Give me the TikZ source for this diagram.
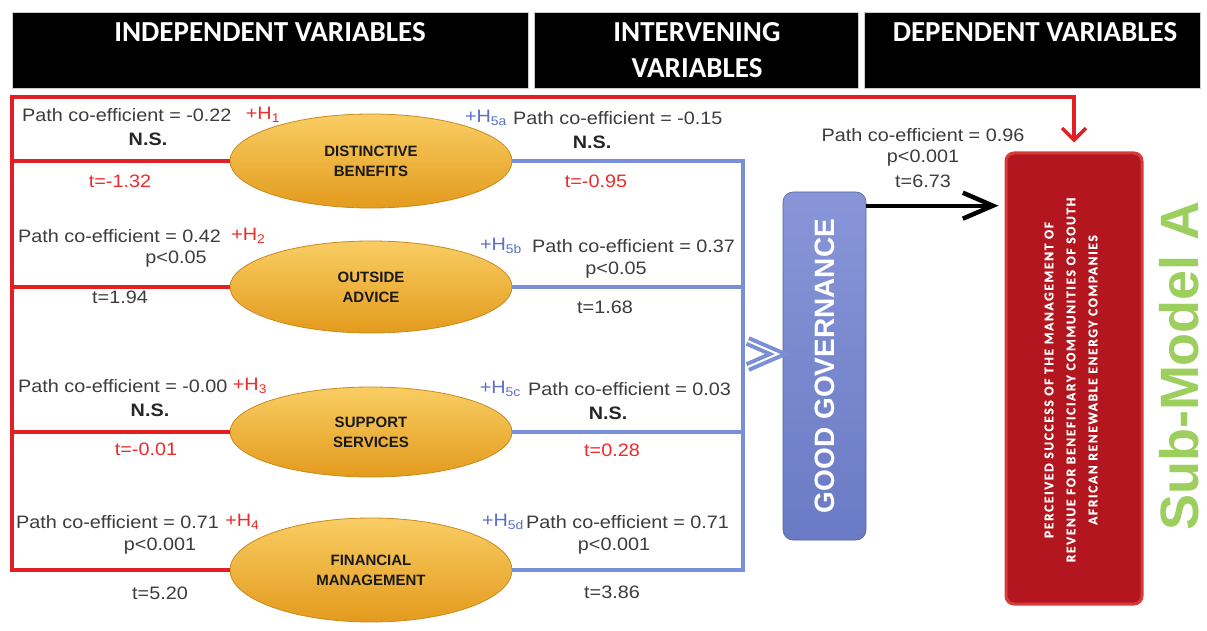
\documentclass[tikz,border=0pt]{standalone}
\usepackage{fontspec}
\setmainfont{Liberation Sans}
\newfontfamily\af[FakeStretch=1.1]{Liberation Sans}
\newfontfamily\hf{Carlito}
\newfontfamily\rf[LetterSpace=12,FakeBold=0.8]{Carlito}
\usetikzlibrary{arrows.meta,shapes.geometric,calc}
\definecolor{redL}{HTML}{E31E24}
\definecolor{blueL}{HTML}{7A90D6}
\definecolor{txt}{HTML}{3C3C3C}
\definecolor{redT}{HTML}{EE2A2A}
\definecolor{blueT}{HTML}{5B70C4}
\definecolor{subgreen}{HTML}{9CCF5E}
\definecolor{ggtop}{HTML}{8896D8}
\definecolor{ggbot}{HTML}{6A7AC4}
\definecolor{boxred}{HTML}{B3161E}
\definecolor{boxedge}{HTML}{D83A3A}
\definecolor{orTop}{HTML}{F9CD63}
\definecolor{orBot}{HTML}{E39B1D}
\definecolor{orEdge}{HTML}{C98A1E}
\tikzset{
  hdr/.style={fill=black, draw=gray!40, line width=0.8pt, inner sep=0pt},
  htext/.style={text=white, font=\hf\bfseries\fontsize{29}{36}\selectfont, inner sep=0pt},
  ell/.style={ellipse, top color=orTop, bottom color=orBot, draw=orEdge, line width=0.8pt,
     inner sep=0pt, align=center, font=\bfseries\fontsize{15}{20}\selectfont, text=black!90},
  lab/.style={inner sep=0pt, text=txt, font=\af\fontsize{18}{20}\selectfont},
  bl/.style={lab, font=\af\bfseries\fontsize{18}{20}\selectfont, text=black!85},
  rl/.style={lab, text=redT},
  bt/.style={lab, text=blueT},
  redline/.style={draw=redL, line width=3.5pt},
  blueline/.style={draw=blueL, line width=3.5pt},
  chev/.style={draw=blueL, line width=4pt, double=white, double distance=2pt, line join=miter},
}
\begin{document}
\begin{tikzpicture}[x=1pt,y=-1pt]
\useasboundingbox (0,0) rectangle (1207,631);
\fill[white] (0,0) rectangle (1207,631);
% header
\node[hdr, minimum width=516pt, minimum height=76pt] (h1) at (270,50) {};
\node[hdr, minimum width=324pt, minimum height=76pt] (h2) at (696,50) {};
\node[hdr, minimum width=336pt, minimum height=76pt] (h3) at (1032,50) {};
\node[htext] (t1) at (270,32) {INDEPENDENT VARIABLES};
\node[htext] (t2) at (697,32) {INTERVENING};
\node[htext] (t2b) at (697,68) {VARIABLES};
\node[htext] (t3) at (1035,32) {DEPENDENT VARIABLES};
% ellipses
\node[ell, minimum width=282pt, minimum height=94pt] (e1) at (371,161) {DISTINCTIVE\\BENEFITS};
\node[ell, minimum width=282pt, minimum height=92pt] (e2) at (371,287) {OUTSIDE\\ADVICE};
\node[ell, minimum width=282pt, minimum height=90pt] (e3) at (371,432) {SUPPORT\\SERVICES};
\node[ell, minimum width=282pt, minimum height=104pt] (e4) at (371,570) {FINANCIAL\\MANAGEMENT};
% good governance
\node[rounded corners=10pt, top color=ggtop, bottom color=ggbot, draw=ggbot!80!black, line width=0.6pt,
      minimum width=83pt, minimum height=348pt, inner sep=0pt] (gg) at (824.5,366) {};
\node[rotate=90, text=white, font=\bfseries\fontsize{28}{30}\selectfont, inner sep=0pt] (ggt) at (824.5,366) {GOOD GOVERNANCE};
% dependent box
\node[rounded corners=8pt, fill=boxred, draw=boxedge, line width=3pt,
      minimum width=136pt, minimum height=451pt, inner sep=0pt] (dv) at (1074,378.5) {};
\node[rotate=90, text=white, align=center, font=\rf\bfseries\fontsize{13.5}{22}\selectfont, inner sep=0pt] (dvt) at (1071,380)
  {PERCEIVED SUCCESS OF THE MANAGEMENT OF\\REVENUE FOR BENEFICIARY COMMUNITIES OF SOUTH\\AFRICAN RENEWABLE ENERGY COMPANIES};
\node[rotate=90, text=subgreen, font=\bfseries\fontsize{54}{60}\selectfont, inner sep=0pt] (sm) at (1179,366) {Sub-Model A};
% red connectors
\coordinate (ltop) at (12,97);
\draw[redline, line join=miter, -{Straight Barb[length=12pt,width=24pt]}, shorten >=9pt] (e4.west) -| (ltop) -| (dv.north);
\draw[redline] (e1.west) -- (e1.west -| ltop);
\draw[redline] (e2.west) -- (e2.west -| ltop);
\draw[redline] (e3.west) -- (e3.west -| ltop);
% blue connectors
\coordinate (bv) at (743,0);
\draw[blueline, line join=miter] (e1.east) -- (e1.east -| bv) -- (e4.east -| bv) -- (e4.east);
\draw[blueline] (e2.east) -- (e2.east -| bv);
\draw[blueline] (e3.east) -- (e3.east -| bv);
\coordinate (ct) at ($(gg.west)+(-5,-12)$);
\draw[chev] ($(ct)+(-30,-13)$) -- (ct) -- ($(ct)+(-30,13)$);
% black arrow
\coordinate (ga) at ($(gg.north east)+(0,14)$);
\draw[line width=4pt, -{Straight Barb[length=30pt,width=26pt,line width=4.5pt]}, shorten >=6pt] (ga) -- (ga -| dv.west);
\node[lab] (p0) at (923,135) {Path co-efficient = 0.96};
\node[lab] (p0b) at (923,158) {p<0.001};
\node[lab] (p0c) at (923,181) {t=6.73};
% left labels row 1
\node[lab, anchor=west] (l1) at (22,115) {Path co-efficient = -0.22};
\node[rl, anchor=west] (h1l) at ($(l1.east)+(14,0)$) {+H\textsubscript{1}};
\node[bl] (l1b) at (148,139) {N.S.};
\node[rl] (l1c) at (120,181) {t=-1.32};
% row 2
\node[lab, anchor=west] (l2) at (18,236) {Path co-efficient = 0.42};
\node[rl, anchor=west] (h2l) at ($(l2.east)+(10,0)$) {+H\textsubscript{2}};
\node[lab] (l2b) at (176,259) {p<0.05};
\node[lab] (l2c) at (120,297) {t=1.94};
% row 3
\node[lab, anchor=west] (l3) at (18,386) {Path co-efficient = -0.00};
\node[rl, anchor=west] (h3l) at ($(l3.east)+(5,0)$) {+H\textsubscript{3}};
\node[bl] (l3b) at (150,410) {N.S.};
\node[rl] (l3c) at (146,449) {t=-0.01};
% row 4
\node[lab, anchor=west] (l4) at (16,522) {Path co-efficient = 0.71};
\node[rl, anchor=west] (h4l) at ($(l4.east)+(6,0)$) {+H\textsubscript{4}};
\node[lab] (l4b) at (160,546) {p<0.001};
\node[lab] (l4c) at (160,593) {t=5.20};
% right labels
\node[lab, anchor=west] (r1) at (513,118) {Path co-efficient = -0.15};
\node[bt, anchor=east] (h5a) at ($(r1.west)+(-6,0)$) {+H\textsubscript{5a}};
\node[bl] (r1b) at (592,142) {N.S.};
\node[rl] (r1c) at (596,181) {t=-0.95};
\node[lab, anchor=west] (r2) at (532,246) {Path co-efficient = 0.37};
\node[bt, anchor=east] (h5b) at ($(r2.west)+(-10,0)$) {+H\textsubscript{5b}};
\node[lab] (r2b) at (616,270) {p<0.05};
\node[lab] (r2c) at (605,307) {t=1.68};
\node[lab, anchor=west] (r3) at (528,389) {Path co-efficient = 0.03};
\node[bt, anchor=east] (h5c) at ($(r3.west)+(-7,0)$) {+H\textsubscript{5c}};
\node[bl] (r3b) at (608,413) {N.S.};
\node[rl] (r3c) at (612,450) {t=0.28};
\node[lab, anchor=west] (r4) at (526,522) {Path co-efficient = 0.71};
\node[bt, anchor=east] (h5d) at ($(r4.west)+(-2,0)$) {+H\textsubscript{5d}};
\node[lab] (r4b) at (614,546) {p<0.001};
\node[lab] (r4c) at (612,592) {t=3.86};
\end{tikzpicture}
\end{document}
